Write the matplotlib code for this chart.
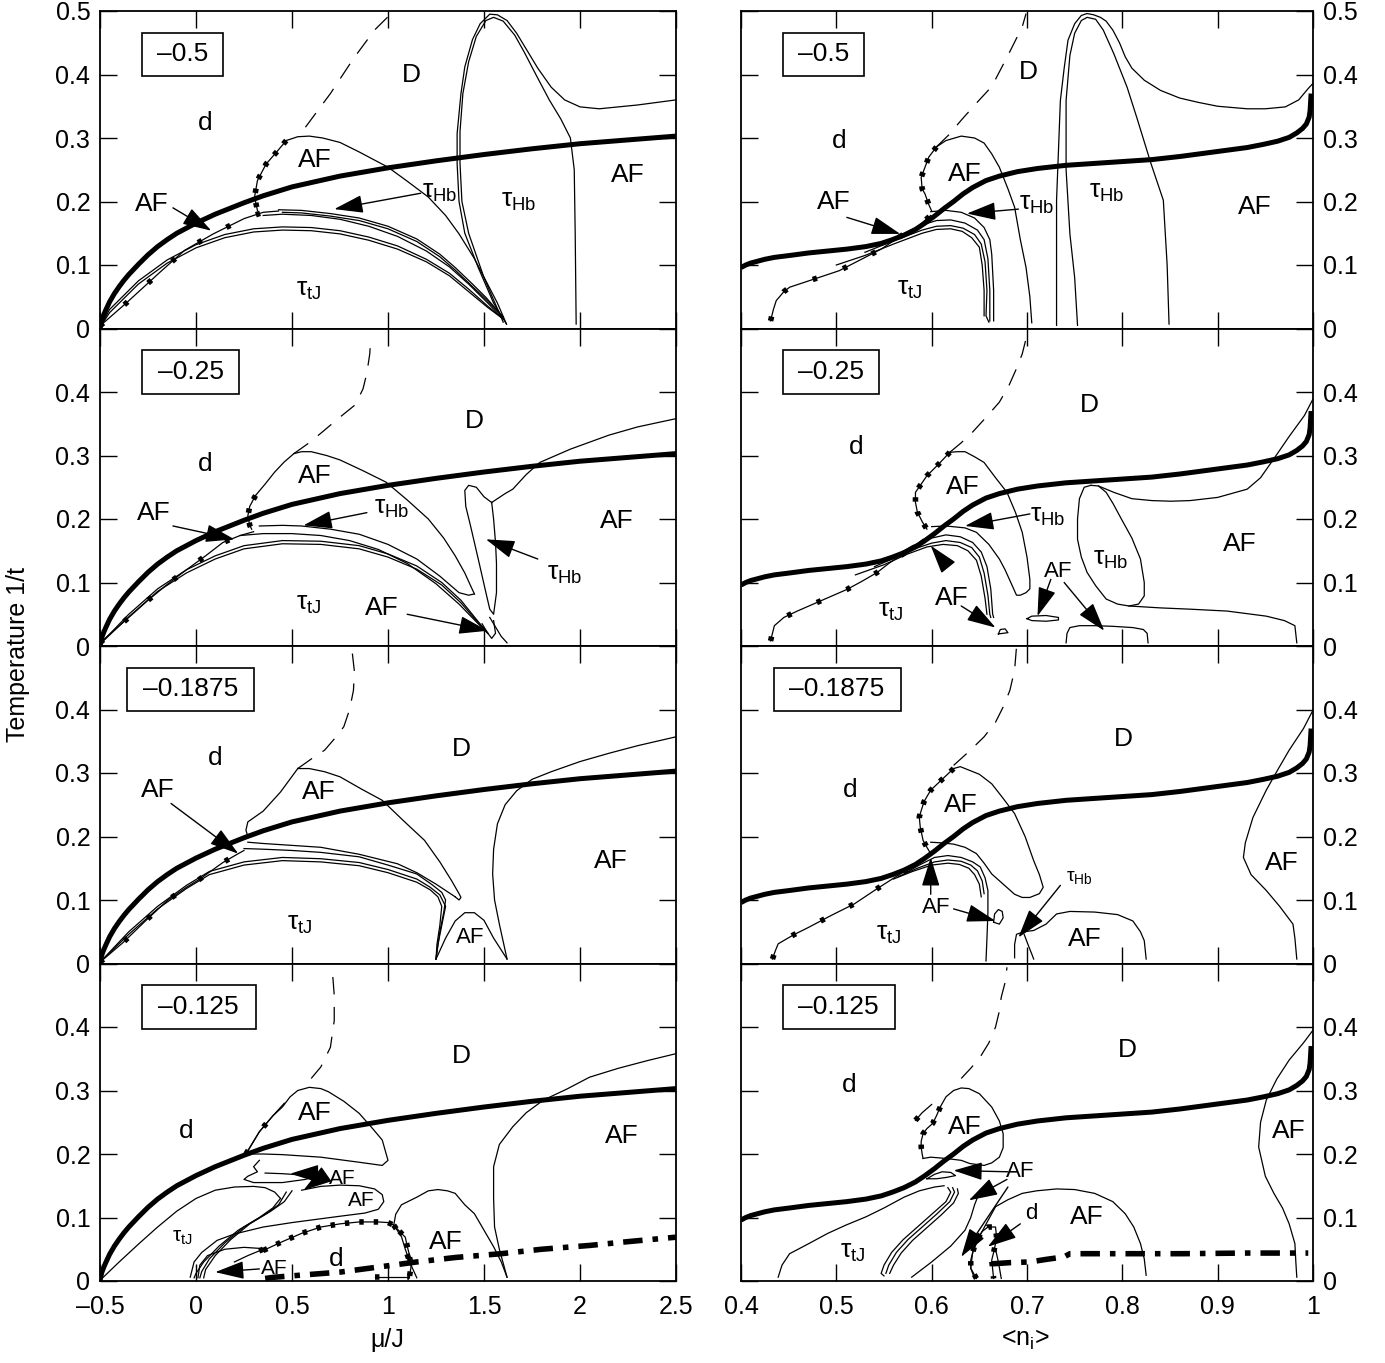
import matplotlib.pyplot as plt
from matplotlib.patches import Rectangle

plt.rcParams['font.family'] = ['Liberation Sans', 'DejaVu Sans']
plt.rcParams['mathtext.default'] = 'regular'

# ---------------- data ----------------
# panel values of the parameter shown in the boxes
box_texts = ['\u20130.5', '\u20130.25', '\u20130.1875', '\u20130.125']

# left column: mu/J, right column: <n_i>
xticks_left = [-0.5, 0, 0.5, 1, 1.5, 2, 2.5]
xlabels_left = ['\u20130.5', '0', '0.5', '1', '1.5', '2', '2.5']
xticks_right = [0.4, 0.5, 0.6, 0.7, 0.8, 0.9, 1.0]
xlabels_right = ['0.4', '0.5', '0.6', '0.7', '0.8', '0.9', '1']
yticks = [0, 0.1, 0.2, 0.3, 0.4, 0.5]

# thick curves (same in every row)
thick_left = [(-0.5, 0.0), (-0.495, 0.008), (-0.49, 0.014), (-0.48, 0.022), (-0.47, 0.029), (-0.45, 0.042),
              (-0.425, 0.055), (-0.4, 0.066), (-0.375, 0.076), (-0.35, 0.085), (-0.3, 0.101), (-0.25, 0.116),
              (-0.2, 0.129), (-0.15, 0.14), (-0.1, 0.15), (-0.05, 0.158), (0.0, 0.166), (0.05, 0.173),
              (0.1, 0.18), (0.15, 0.186), (0.25, 0.198), (0.35, 0.209), (0.5, 0.223), (0.75, 0.24),
              (1.0, 0.253), (1.25, 0.264), (1.5, 0.274), (1.75, 0.283), (2.0, 0.291), (2.25, 0.297),
              (2.5, 0.303)]
thick_right = [(0.4, 0.096), (0.405, 0.1), (0.41, 0.103), (0.415, 0.105), (0.425, 0.109), (0.435, 0.112),
               (0.451, 0.115), (0.471, 0.119), (0.491, 0.122), (0.511, 0.125), (0.531, 0.129), (0.547, 0.134),
               (0.559, 0.14), (0.571, 0.147), (0.583, 0.156), (0.593, 0.166), (0.603, 0.177), (0.613, 0.189),
               (0.623, 0.2), (0.633, 0.212), (0.643, 0.222), (0.657, 0.233), (0.671, 0.24), (0.69, 0.247),
               (0.711, 0.252), (0.741, 0.257), (0.771, 0.26), (0.801, 0.263), (0.831, 0.266), (0.861, 0.271),
               (0.891, 0.277), (0.911, 0.281), (0.931, 0.285), (0.948, 0.29), (0.963, 0.295), (0.975, 0.301),
               (0.983, 0.308), (0.989, 0.315), (0.993, 0.322), (0.996, 0.333), (0.997, 0.344), (0.998, 0.37)]

# ---- row 1, left ----
L1_dashed = [(0.57, 0.317), (0.70, 0.37), (0.82, 0.425), (0.93, 0.47), (1.03, 0.5)]
L1_dome = [(0.47, 0.296), (0.53, 0.302), (0.59, 0.303), (0.66, 0.300), (0.75, 0.293), (0.85, 0.278),
           (1.0, 0.254), (1.1, 0.232), (1.21, 0.207), (1.30, 0.178), (1.37, 0.149), (1.45, 0.11),
           (1.51, 0.075), (1.57, 0.04), (1.617, 0.007)]
L1_side = [(0.47, 0.296), (0.42, 0.278), (0.365, 0.259), (0.32, 0.233), (0.305, 0.207), (0.32, 0.186)]
L1_marked = [(-0.5, 0.004), (-0.36, 0.041), (-0.19, 0.088), (-0.06, 0.123), (0.09, 0.149), (0.25, 0.173),
             (0.35, 0.183), (0.43, 0.185)]
L1_hb_a = [(0.43, 0.187), (0.55, 0.186), (0.70, 0.181), (0.85, 0.174), (1.0, 0.161), (1.15, 0.141),
           (1.27, 0.117), (1.35, 0.096), (1.44, 0.07), (1.51, 0.049), (1.6, 0.018)]
L1_hb_b = [(0.45, 0.183), (0.55, 0.182), (0.70, 0.177), (0.85, 0.170), (1.0, 0.157), (1.15, 0.137),
           (1.27, 0.113), (1.35, 0.092), (1.44, 0.066), (1.51, 0.046), (1.6, 0.018)]
L1_tj_a = [(0.35, 0.178), (0.45, 0.18), (0.6, 0.178), (0.75, 0.172), (0.9, 0.161), (1.05, 0.145),
           (1.2, 0.122), (1.32, 0.097), (1.42, 0.07), (1.52, 0.04), (1.6, 0.015)]
L1_tj_b = [(-0.5, 0.002), (-0.45, 0.03), (-0.3, 0.075), (-0.15, 0.108), (0.0, 0.132), (0.15, 0.148),
           (0.3, 0.157), (0.45, 0.160), (0.6, 0.159), (0.75, 0.154), (0.9, 0.144), (1.05, 0.13),
           (1.2, 0.109), (1.32, 0.087), (1.42, 0.062), (1.52, 0.035), (1.6, 0.015)]
L1_tj_c = [(-0.5, 0.002), (-0.45, 0.025), (-0.3, 0.07), (-0.15, 0.103), (0.0, 0.127), (0.15, 0.143),
           (0.3, 0.152), (0.45, 0.155), (0.6, 0.154), (0.75, 0.149), (0.9, 0.139), (1.05, 0.125),
           (1.2, 0.105), (1.32, 0.083), (1.42, 0.058), (1.52, 0.033), (1.6, 0.015)]
L1_lobe_out = [(1.617, 0.007), (1.55, 0.04), (1.47, 0.096), (1.40, 0.15), (1.37, 0.2), (1.36, 0.26),
               (1.36, 0.307), (1.38, 0.37), (1.40, 0.412), (1.44, 0.455), (1.48, 0.48), (1.53, 0.495),
               (1.57, 0.494), (1.62, 0.485), (1.67, 0.465), (1.72, 0.44), (1.78, 0.41), (1.85, 0.38),
               (1.92, 0.36), (2.0, 0.349), (2.1, 0.346), (2.2, 0.349), (2.3, 0.352), (2.4, 0.356),
               (2.5, 0.36)]
L1_lobe_in = [(1.60, 0.01), (1.50, 0.08), (1.42, 0.15), (1.385, 0.2), (1.375, 0.26), (1.375, 0.31),
              (1.39, 0.37), (1.42, 0.42), (1.46, 0.46), (1.51, 0.485), (1.55, 0.49), (1.60, 0.484),
              (1.66, 0.462), (1.71, 0.435), (1.77, 0.40), (1.84, 0.36), (1.90, 0.33), (1.95, 0.30),
              (1.97, 0.25), (1.975, 0.15), (1.98, 0.007)]

# ---- row 2, left ----
L2_dashed = [(0.51, 0.303), (0.58, 0.318), (0.65, 0.335), (0.74, 0.358), (0.83, 0.38), (0.87, 0.405),
             (0.89, 0.43), (0.905, 0.46), (0.91, 0.485)]
L2_dome = [(0.51, 0.303), (0.55, 0.306), (0.60, 0.306), (0.68, 0.300), (0.75, 0.293), (0.87, 0.276),
           (0.99, 0.258), (1.1, 0.23), (1.21, 0.20), (1.29, 0.17), (1.35, 0.142), (1.40, 0.115),
           (1.43, 0.095), (1.45, 0.082)]
L2_side = [(0.51, 0.303), (0.46, 0.29), (0.41, 0.274), (0.36, 0.255), (0.31, 0.237)]
L2_side_marked = [(0.31, 0.237), (0.28, 0.22), (0.27, 0.205), (0.28, 0.19), (0.29, 0.184)]
L2_marked = [(-0.5, 0.005), (-0.35, 0.045), (-0.25, 0.072), (-0.15, 0.097), (-0.05, 0.12), (0.05, 0.142),
             (0.14, 0.163), (0.23, 0.174), (0.30, 0.18)]
L2_hb = [(0.33, 0.189), (0.45, 0.19), (0.55, 0.189), (0.70, 0.184), (0.85, 0.176), (1.0, 0.16),
         (1.15, 0.137), (1.27, 0.11), (1.37, 0.084), (1.42, 0.08), (1.45, 0.082)]
L2_tj_a = [(0.23, 0.174), (0.35, 0.177), (0.50, 0.177), (0.65, 0.174), (0.80, 0.166), (0.95, 0.152),
           (1.1, 0.13), (1.25, 0.098), (1.37, 0.066), (1.46, 0.038), (1.52, 0.02)]
L2_tj_b = [(-0.5, 0.003), (-0.35, 0.05), (-0.2, 0.09), (-0.05, 0.12), (0.1, 0.142), (0.25, 0.158),
           (0.45, 0.166), (0.65, 0.165), (0.85, 0.158), (1.0, 0.145), (1.15, 0.126), (1.28, 0.1),
           (1.38, 0.072), (1.46, 0.042), (1.52, 0.02)]
L2_tj_c = [(-0.5, 0.003), (-0.35, 0.046), (-0.2, 0.086), (-0.05, 0.115), (0.1, 0.137), (0.25, 0.153),
           (0.45, 0.161), (0.65, 0.16), (0.85, 0.153), (1.0, 0.14), (1.15, 0.121), (1.28, 0.096),
           (1.38, 0.068), (1.46, 0.04), (1.52, 0.02)]
L2_lobe = [(1.54, 0.226), (1.50, 0.235), (1.46, 0.25), (1.42, 0.253), (1.40, 0.245), (1.405, 0.22),
           (1.43, 0.189), (1.47, 0.137), (1.51, 0.084), (1.53, 0.058), (1.55, 0.05), (1.565, 0.084),
           (1.565, 0.13), (1.56, 0.163), (1.55, 0.2), (1.54, 0.226)]
L2_upper = [(1.54, 0.226), (1.57, 0.232), (1.61, 0.24), (1.65, 0.247), (1.72, 0.27), (1.79, 0.289),
            (1.95, 0.31), (2.15, 0.332), (2.3, 0.345), (2.5, 0.358)]
L2_tail_a = [(1.53, 0.045), (1.56, 0.03), (1.59, 0.015), (1.62, 0.005)]
L2_tail_b = [(1.49, 0.035), (1.52, 0.02), (1.54, 0.012), (1.56, 0.02), (1.55, 0.04)]

# ---- row 3, left ----
L3_dashed = [(0.53, 0.307), (0.60, 0.322), (0.67, 0.336), (0.73, 0.357), (0.77, 0.373), (0.80, 0.40),
             (0.82, 0.43), (0.825, 0.46), (0.81, 0.5)]
L3_dome = [(0.53, 0.307), (0.59, 0.307), (0.67, 0.302), (0.75, 0.294), (0.86, 0.275), (0.97, 0.257),
           (1.08, 0.225), (1.19, 0.194), (1.27, 0.16), (1.33, 0.131), (1.37, 0.11), (1.38, 0.104),
           (1.37, 0.1), (1.35, 0.105)]
L3_side = [(0.53, 0.307), (0.44, 0.27), (0.35, 0.24), (0.27, 0.223), (0.26, 0.21), (0.27, 0.2)]
L3_marked = [(-0.5, 0.002), (-0.38, 0.033), (-0.26, 0.068), (-0.15, 0.099), (-0.05, 0.12), (0.02, 0.133),
             (0.14, 0.159), (0.22, 0.173), (0.25, 0.178)]
L3_hb = [(0.27, 0.191), (0.35, 0.189), (0.50, 0.186), (0.65, 0.183), (0.85, 0.172), (1.05, 0.157),
         (1.15, 0.143), (1.25, 0.125), (1.30, 0.115), (1.35, 0.105)]
L3_tj_a = [(0.25, 0.181), (0.35, 0.18), (0.50, 0.178), (0.65, 0.175), (0.85, 0.168), (1.0, 0.155),
           (1.15, 0.141), (1.23, 0.124), (1.28, 0.112), (1.30, 0.1), (1.29, 0.08), (1.27, 0.05),
           (1.25, 0.007)]
L3_tj_b = [(-0.5, 0.002), (-0.35, 0.05), (-0.2, 0.09), (-0.05, 0.123), (0.07, 0.145), (0.25, 0.16),
           (0.45, 0.167), (0.65, 0.165), (0.85, 0.159), (1.0, 0.148), (1.15, 0.133), (1.22, 0.12),
           (1.27, 0.108), (1.30, 0.09), (1.28, 0.06), (1.26, 0.03), (1.25, 0.007)]
L3_tj_c = [(-0.5, 0.002), (-0.35, 0.046), (-0.2, 0.086), (-0.05, 0.118), (0.07, 0.14), (0.25, 0.155),
           (0.45, 0.162), (0.65, 0.16), (0.85, 0.154), (1.0, 0.143), (1.15, 0.128), (1.22, 0.116),
           (1.26, 0.105), (1.28, 0.09), (1.27, 0.06), (1.255, 0.03), (1.25, 0.007)]
L3_af_small = [(1.25, 0.007), (1.30, 0.04), (1.35, 0.067), (1.40, 0.08), (1.45, 0.08), (1.50, 0.068),
               (1.55, 0.04), (1.62, 0.007)]
L3_af_right = [(1.62, 0.007), (1.58, 0.062), (1.555, 0.1), (1.545, 0.141), (1.55, 0.18), (1.57, 0.22),
               (1.61, 0.25), (1.67, 0.272), (1.75, 0.29), (1.85, 0.302), (2.0, 0.318), (2.15, 0.331),
               (2.3, 0.343), (2.5, 0.357)]

# ---- row 4, left ----
L4_dashed = [(0.60, 0.319), (0.65, 0.337), (0.70, 0.368), (0.72, 0.41), (0.72, 0.45), (0.71, 0.489)]
L4_dome = [(0.26, 0.2), (0.33, 0.235), (0.40, 0.26), (0.45, 0.274), (0.49, 0.29), (0.53, 0.3), (0.59, 0.305),
           (0.65, 0.303), (0.69, 0.298), (0.77, 0.283), (0.85, 0.264), (0.92, 0.24), (0.97, 0.222),
           (1.0, 0.19), (0.97, 0.182), (0.85, 0.187), (0.65, 0.195), (0.45, 0.199), (0.35, 0.2), (0.26, 0.2)]
L4_dome_marks = [(0.26, 0.2), (0.33, 0.235), (0.40, 0.26), (0.46, 0.28)]
L4_loop1 = [(0.33, 0.19), (0.30, 0.18), (0.32, 0.172), (0.27, 0.165), (0.25, 0.16), (0.30, 0.155),
            (0.45, 0.155), (0.57, 0.16), (0.61, 0.164), (0.55, 0.167), (0.45, 0.169), (0.36, 0.17)]
L4_outer = [(0.55, 0.143), (0.65, 0.149), (0.75, 0.151), (0.85, 0.15), (0.93, 0.145), (0.97, 0.136),
            (0.978, 0.125), (0.95, 0.113), (0.88, 0.107), (0.75, 0.102), (0.65, 0.098), (0.5, 0.092),
            (0.35, 0.085), (0.2, 0.074), (0.11, 0.064), (0.03, 0.045), (-0.01, 0.03), (-0.03, 0.006)]
L4_tj_outer = [(-0.5, 0.001), (-0.4, 0.03), (-0.3, 0.058), (-0.2, 0.085), (-0.1, 0.11), (0.0, 0.13),
               (0.1, 0.143), (0.2, 0.148), (0.3, 0.149), (0.36, 0.147), (0.41, 0.14), (0.44, 0.13)]
L4_bundle_a = [(0.44, 0.13), (0.40, 0.115), (0.33, 0.10), (0.22, 0.08), (0.12, 0.055), (0.04, 0.03),
               (0.0, 0.012), (-0.01, 0.005)]
L4_bundle_b = [(0.47, 0.14), (0.43, 0.12), (0.36, 0.105), (0.25, 0.085), (0.15, 0.06), (0.07, 0.035),
               (0.03, 0.015), (0.02, 0.005)]
L4_bundle_c = [(0.50, 0.142), (0.46, 0.125), (0.39, 0.11), (0.28, 0.09), (0.18, 0.065), (0.10, 0.04),
               (0.05, 0.018), (0.04, 0.005)]
L4_inner = [(0.01, 0.005), (0.02, 0.025), (0.06, 0.04), (0.15, 0.05), (0.25, 0.053), (0.35, 0.051)]
L4_inner_marked = [(0.35, 0.05), (0.27, 0.04), (0.2, 0.03)]
L4_d_dotted = [(0.35, 0.048), (0.45, 0.062), (0.55, 0.075), (0.65, 0.085), (0.75, 0.09), (0.85, 0.093),
               (0.95, 0.093), (1.0, 0.092), (1.03, 0.088), (1.07, 0.075), (1.09, 0.069), (1.10, 0.055),
               (1.11, 0.043), (1.12, 0.022), (1.11, 0.004)]
L4_af2 = [(1.03, 0.088), (1.04, 0.105), (1.07, 0.12), (1.15, 0.132), (1.21, 0.142), (1.26, 0.144),
          (1.31, 0.142), (1.35, 0.138), (1.40, 0.12), (1.45, 0.106), (1.50, 0.08), (1.55, 0.054),
          (1.59, 0.03), (1.62, 0.006)]
L4_af2_marked = [(1.03, 0.088), (1.07, 0.07), (1.09, 0.05), (1.12, 0.025), (1.15, 0.005)]
L4_bottom_marked = [(0.93, 0.007), (1.02, 0.007), (1.11, 0.007)]
L4_af_right = [(1.62, 0.006), (1.58, 0.05), (1.555, 0.085), (1.55, 0.13), (1.55, 0.18), (1.58, 0.215),
               (1.65, 0.243), (1.72, 0.265), (1.81, 0.285), (1.93, 0.302), (2.05, 0.321), (2.2, 0.335),
               (2.35, 0.347), (2.5, 0.358)]
L4_dashdot = [(0.36, 0.004), (0.41, 0.006), (0.58, 0.01), (0.75, 0.014), (0.95, 0.022), (1.15, 0.03),
              (1.35, 0.037), (1.59, 0.043), (1.80, 0.05), (2.05, 0.056), (2.25, 0.062), (2.5, 0.069)]

# ---- row 1, right ----
R1_dashed = [(0.605, 0.286), (0.618, 0.305), (0.631, 0.328), (0.647, 0.355), (0.663, 0.381),
             (0.68, 0.43), (0.695, 0.475), (0.699, 0.496)]
R1_dome = [(0.605, 0.286), (0.615, 0.296), (0.631, 0.303), (0.645, 0.3), (0.655, 0.292), (0.663, 0.275),
           (0.671, 0.254), (0.68, 0.22), (0.687, 0.191), (0.693, 0.14), (0.699, 0.096), (0.703, 0.05),
           (0.705, 0.009)]
R1_side = [(0.605, 0.286), (0.597, 0.27), (0.592, 0.25), (0.589, 0.238), (0.590, 0.22), (0.593, 0.212),
           (0.597, 0.195), (0.600, 0.185)]
R1_marked = [(0.431, 0.012), (0.434, 0.03), (0.437, 0.044), (0.445, 0.058), (0.451, 0.065), (0.475, 0.077),
             (0.503, 0.091), (0.525, 0.108), (0.547, 0.125), (0.571, 0.149), (0.585, 0.16), (0.599, 0.178)]
R1_hb = [(0.599, 0.184), (0.615, 0.186), (0.631, 0.183), (0.645, 0.174), (0.655, 0.159), (0.661, 0.14),
         (0.663, 0.117), (0.665, 0.06), (0.665, 0.012)]
R1_tj_a = [(0.57, 0.148), (0.59, 0.163), (0.605, 0.17), (0.62, 0.171), (0.635, 0.166), (0.648, 0.155),
           (0.655, 0.14), (0.659, 0.11), (0.661, 0.06), (0.661, 0.012)]
R1_tj_b = [(0.53, 0.12), (0.56, 0.138), (0.59, 0.155), (0.605, 0.161), (0.62, 0.162), (0.633, 0.158),
           (0.645, 0.148), (0.652, 0.133), (0.656, 0.105), (0.658, 0.06), (0.657, 0.02), (0.66, 0.01)]
R1_tj_c = [(0.50, 0.1), (0.53, 0.115), (0.56, 0.133), (0.59, 0.15), (0.605, 0.156), (0.62, 0.157),
           (0.632, 0.153), (0.642, 0.143), (0.65, 0.128), (0.653, 0.1), (0.655, 0.06), (0.655, 0.02)]
R1_lobe_out = [(0.731, 0.005), (0.731, 0.1), (0.731, 0.202), (0.733, 0.28), (0.735, 0.359), (0.739, 0.41),
               (0.743, 0.454), (0.75, 0.48), (0.757, 0.493), (0.763, 0.496), (0.77, 0.494), (0.777, 0.49),
               (0.783, 0.484), (0.79, 0.47), (0.797, 0.45), (0.803, 0.428), (0.81, 0.41), (0.823, 0.391),
               (0.84, 0.375), (0.86, 0.363), (0.88, 0.356), (0.90, 0.35), (0.931, 0.346), (0.95, 0.346),
               (0.971, 0.349), (0.985, 0.36), (0.995, 0.378), (1.0, 0.386)]
R1_lobe_in = [(0.753, 0.005), (0.75, 0.08), (0.745, 0.149), (0.741, 0.25), (0.741, 0.359), (0.745, 0.43),
              (0.75, 0.465), (0.757, 0.485), (0.763, 0.49), (0.772, 0.487), (0.78, 0.47), (0.791, 0.433),
              (0.805, 0.38), (0.815, 0.333), (0.83, 0.26), (0.843, 0.202), (0.847, 0.1), (0.849, 0.007)]

# ---- row 2, right ----
R2_dashed = [(0.619, 0.305), (0.631, 0.32), (0.643, 0.337), (0.657, 0.36), (0.671, 0.384), (0.681, 0.41),
             (0.689, 0.437), (0.695, 0.46), (0.699, 0.484)]
R2_dome = [(0.619, 0.305), (0.627, 0.306), (0.635, 0.306), (0.645, 0.298), (0.655, 0.289), (0.667, 0.265),
           (0.679, 0.242), (0.688, 0.21), (0.695, 0.179), (0.700, 0.14), (0.703, 0.105), (0.703, 0.09),
           (0.699, 0.084), (0.693, 0.08), (0.689, 0.08), (0.683, 0.1), (0.677, 0.12), (0.671, 0.137),
           (0.66, 0.16), (0.647, 0.179), (0.635, 0.186), (0.615, 0.189), (0.60, 0.188)]
R2_side = [(0.619, 0.305), (0.607, 0.286), (0.595, 0.268), (0.589, 0.255), (0.583, 0.242), (0.583, 0.226),
           (0.585, 0.211), (0.59, 0.196), (0.595, 0.184)]
R2_marked = [(0.431, 0.008), (0.433, 0.02), (0.435, 0.032), (0.445, 0.045), (0.459, 0.055), (0.485, 0.072),
             (0.511, 0.089), (0.527, 0.102), (0.543, 0.116), (0.555, 0.13), (0.567, 0.142), (0.58, 0.155),
             (0.591, 0.168)]
R2_tj_a = [(0.56, 0.14), (0.58, 0.158), (0.60, 0.17), (0.615, 0.175), (0.63, 0.172), (0.643, 0.163),
           (0.652, 0.148), (0.658, 0.125), (0.662, 0.09), (0.664, 0.05), (0.665, 0.045)]
R2_tj_b = [(0.54, 0.125), (0.56, 0.138), (0.58, 0.152), (0.60, 0.162), (0.615, 0.166), (0.63, 0.163),
           (0.642, 0.155), (0.65, 0.14), (0.655, 0.115), (0.659, 0.08), (0.661, 0.05), (0.662, 0.045)]
R2_tj_c = [(0.52, 0.112), (0.55, 0.128), (0.575, 0.145), (0.595, 0.156), (0.612, 0.16), (0.627, 0.158),
           (0.638, 0.15), (0.647, 0.135), (0.652, 0.11), (0.656, 0.075), (0.658, 0.05)]
R2_hb_loop = [(0.767, 0.253), (0.76, 0.25), (0.755, 0.232), (0.753, 0.2), (0.753, 0.168), (0.757, 0.14),
              (0.763, 0.116), (0.772, 0.095), (0.783, 0.074), (0.795, 0.066), (0.807, 0.063), (0.817, 0.066),
              (0.823, 0.079), (0.823, 0.1), (0.819, 0.137), (0.81, 0.17), (0.799, 0.2), (0.79, 0.225),
              (0.783, 0.242), (0.775, 0.252), (0.767, 0.253)]
R2_upper = [(0.775, 0.252), (0.791, 0.242), (0.81, 0.232), (0.831, 0.229), (0.851, 0.228), (0.871, 0.229),
            (0.9, 0.234), (0.931, 0.247), (0.945, 0.265), (0.959, 0.295), (0.975, 0.33), (0.991, 0.363),
            (1.0, 0.389)]
R2_bottom = [(0.807, 0.063), (0.84, 0.06), (0.871, 0.058), (0.91, 0.055), (0.951, 0.047), (0.97, 0.04),
             (0.981, 0.032), (0.983, 0.005)]
R2_af_dome = [(0.741, 0.005), (0.742, 0.02), (0.745, 0.029), (0.755, 0.032), (0.771, 0.032), (0.79, 0.031),
              (0.811, 0.029), (0.822, 0.026), (0.826, 0.02), (0.827, 0.005)]
R2_small_loop = [(0.70, 0.043), (0.705, 0.047), (0.72, 0.048), (0.733, 0.045), (0.733, 0.041), (0.72, 0.039),
                 (0.705, 0.04), (0.70, 0.043)]
R2_blob = [(0.67, 0.019), (0.672, 0.026), (0.677, 0.027), (0.68, 0.021), (0.67, 0.019)]

# ---- row 3, right ----
R3_dashed = [(0.623, 0.312), (0.64, 0.335), (0.655, 0.357), (0.667, 0.38), (0.675, 0.404), (0.682, 0.43),
             (0.687, 0.462), (0.689, 0.499)]
R3_dome = [(0.623, 0.307), (0.63, 0.31), (0.635, 0.307), (0.65, 0.298), (0.663, 0.283), (0.675, 0.26),
           (0.687, 0.236), (0.698, 0.2), (0.707, 0.162), (0.713, 0.14), (0.717, 0.12), (0.713, 0.11),
           (0.703, 0.104), (0.695, 0.104), (0.687, 0.109), (0.675, 0.125), (0.663, 0.141), (0.655, 0.158),
           (0.647, 0.173), (0.635, 0.183), (0.623, 0.188), (0.61, 0.19), (0.599, 0.191)]
R3_side = [(0.623, 0.307), (0.611, 0.29), (0.599, 0.273), (0.592, 0.255), (0.587, 0.231), (0.588, 0.215),
           (0.591, 0.194), (0.595, 0.183), (0.599, 0.173)]
R3_marked = [(0.433, 0.007), (0.436, 0.02), (0.439, 0.031), (0.455, 0.045), (0.471, 0.057), (0.495, 0.076),
             (0.519, 0.094), (0.543, 0.118), (0.567, 0.141), (0.583, 0.157), (0.599, 0.173)]
R3_tj_a = [(0.571, 0.141), (0.587, 0.155), (0.603, 0.167), (0.617, 0.17), (0.631, 0.167), (0.643, 0.16),
           (0.651, 0.152), (0.656, 0.135), (0.659, 0.115), (0.659, 0.08), (0.658, 0.04), (0.657, 0.004)]
R3_tj_b = [(0.565, 0.137), (0.585, 0.15), (0.603, 0.16), (0.617, 0.163), (0.631, 0.161), (0.641, 0.155),
           (0.648, 0.146), (0.653, 0.13), (0.655, 0.11)]
R3_tj_c = [(0.56, 0.133), (0.58, 0.145), (0.60, 0.155), (0.617, 0.158), (0.629, 0.156), (0.639, 0.15),
           (0.645, 0.14), (0.65, 0.125), (0.652, 0.105)]
R3_small_loop = [(0.665, 0.065), (0.666, 0.078), (0.670, 0.085), (0.674, 0.082), (0.675, 0.072),
                 (0.671, 0.062), (0.665, 0.065)]
R3_hb_line = [(0.687, 0.009), (0.687, 0.03), (0.689, 0.046), (0.697, 0.05), (0.707, 0.052), (0.72, 0.062),
              (0.731, 0.078), (0.745, 0.082), (0.771, 0.081), (0.795, 0.077), (0.811, 0.067), (0.819, 0.05),
              (0.823, 0.036), (0.825, 0.007)]
R3_line2 = [(0.697, 0.046), (0.701, 0.03), (0.705, 0.015), (0.707, 0.007)]
R3_af_right = [(0.983, 0.007), (0.981, 0.04), (0.979, 0.062), (0.965, 0.09), (0.951, 0.115), (0.935, 0.14),
               (0.927, 0.167), (0.929, 0.19), (0.937, 0.23), (0.951, 0.273), (0.963, 0.305), (0.975, 0.336),
               (0.99, 0.37), (1.0, 0.399)]

# ---- row 4, right ----
R4_dashed = [(0.631, 0.319), (0.641, 0.335), (0.651, 0.353), (0.66, 0.375), (0.667, 0.4), (0.671, 0.425),
             (0.673, 0.447), (0.677, 0.47), (0.679, 0.494)]
R4_dome = [(0.609, 0.274), (0.615, 0.29), (0.623, 0.3), (0.631, 0.304), (0.639, 0.303), (0.65, 0.295),
           (0.663, 0.274), (0.671, 0.252), (0.675, 0.232), (0.675, 0.21), (0.671, 0.195), (0.663, 0.186),
           (0.655, 0.182), (0.64, 0.185), (0.631, 0.19), (0.615, 0.193), (0.599, 0.195), (0.591, 0.193)]
R4_side = [(0.609, 0.274), (0.605, 0.26), (0.601, 0.248), (0.595, 0.24), (0.591, 0.232), (0.589, 0.22),
           (0.589, 0.211), (0.59, 0.2), (0.591, 0.193)]
R4_side2 = [(0.583, 0.253), (0.59, 0.265), (0.60, 0.278)]
R4_lens = [(0.595, 0.161), (0.603, 0.168), (0.611, 0.172), (0.62, 0.171), (0.625, 0.166), (0.615, 0.163),
           (0.605, 0.161), (0.595, 0.161)]
R4_tj_outer = [(0.439, 0.006), (0.443, 0.025), (0.451, 0.043), (0.47, 0.058), (0.491, 0.075), (0.51, 0.088),
               (0.531, 0.101), (0.55, 0.115), (0.571, 0.132), (0.587, 0.142), (0.603, 0.148), (0.613, 0.15)]
R4_bundle_a = [(0.617, 0.147), (0.62, 0.14), (0.615, 0.125), (0.60, 0.105), (0.585, 0.085), (0.57, 0.065),
               (0.558, 0.045), (0.55, 0.025), (0.547, 0.012), (0.55, 0.008)]
R4_bundle_b = [(0.622, 0.147), (0.624, 0.14), (0.619, 0.125), (0.605, 0.105), (0.59, 0.085), (0.575, 0.065),
               (0.563, 0.045), (0.555, 0.025), (0.552, 0.012)]
R4_bundle_c = [(0.627, 0.145), (0.628, 0.138), (0.623, 0.123), (0.61, 0.104), (0.595, 0.084), (0.58, 0.064),
               (0.568, 0.044), (0.56, 0.025), (0.556, 0.012)]
R4_line1 = [(0.579, 0.006), (0.60, 0.03), (0.62, 0.055), (0.635, 0.08), (0.641, 0.1), (0.645, 0.12),
            (0.651, 0.143)]
R4_af_dome = [(0.667, 0.117), (0.68, 0.128), (0.695, 0.138), (0.71, 0.142), (0.731, 0.145), (0.75, 0.144),
              (0.771, 0.138), (0.79, 0.125), (0.803, 0.106), (0.812, 0.085), (0.819, 0.059), (0.823, 0.035),
              (0.825, 0.009)]
R4_af_left = [(0.667, 0.117), (0.659, 0.095), (0.65, 0.07), (0.643, 0.045), (0.641, 0.02), (0.645, 0.004)]
R4_af_left2 = [(0.673, 0.004), (0.67, 0.03), (0.667, 0.05)]
R4_d_dotted = [(0.647, 0.004), (0.641, 0.02), (0.641, 0.033), (0.644, 0.05), (0.647, 0.064), (0.653, 0.078),
               (0.659, 0.085), (0.667, 0.085), (0.668, 0.07), (0.667, 0.059), (0.665, 0.045), (0.663, 0.033),
               (0.664, 0.018), (0.665, 0.004)]
R4_dashdot = [(0.663, 0.027), (0.683, 0.029), (0.703, 0.03), (0.72, 0.034), (0.739, 0.038), (0.745, 0.043),
              (0.76, 0.043), (0.783, 0.043), (0.83, 0.043), (0.863, 0.043), (0.93, 0.044), (0.995, 0.044)]
R4_af_right = [(0.983, 0.006), (0.982, 0.03), (0.981, 0.059), (0.975, 0.09), (0.968, 0.115), (0.959, 0.138),
               (0.95, 0.165), (0.943, 0.211), (0.945, 0.25), (0.951, 0.285), (0.962, 0.318), (0.975, 0.348),
               (0.99, 0.375), (1.0, 0.395)]


# ---------------- drawing helpers ----------------
def curve(ax, pts, lw=0.9, **kw):
    ax.plot([p[0] for p in pts], [p[1] for p in pts], color='k', lw=lw,
            solid_joinstyle='round', **kw)


def thick(ax, pts):
    curve(ax, pts, lw=3.6, solid_capstyle='butt')


def dashed(ax, pts):
    curve(ax, pts, lw=0.9, linestyle=(0, (14, 10)))


def marked(ax, pts):
    # thin line carrying thick short marks
    curve(ax, pts)
    curve(ax, pts, lw=4, linestyle=(0, (0.8, 5)), dash_capstyle='butt')


def dotted(ax, pts):
    curve(ax, pts)
    curve(ax, pts, lw=4, linestyle=(0, (0.8, 1.8)), dash_capstyle='butt')


def dashdot(ax, pts):
    curve(ax, pts, lw=4, linestyle=(0, (3.5, 1.8, 1, 1.8)), dash_capstyle='butt')


def arrow(ax, x0, y0, x1, y1):
    ax.annotate('', xy=(x1, y1), xytext=(x0, y0),
                arrowprops=dict(arrowstyle='-|>,head_length=0.9,head_width=0.28', color='k',
                                lw=1, mutation_scale=20, shrinkA=0, shrinkB=0))


def label(ax, x, y, s, size=19):
    ax.text(x, y, s, ha='center', va='center', fontsize=size)


def box(ax, x0, w, s):
    ax.add_patch(Rectangle((x0, 0.795), w, 0.137, transform=ax.transAxes,
                           fill=False, lw=1.2, color='k'))
    ax.text(x0 + w / 2, 0.8635, s, transform=ax.transAxes, ha='center', va='center', fontsize=19)


HB = 'τ$_{\\mathregular{Hb}}$'
TJ = 'τ$_{\\mathregular{tJ}}$'

# ---------------- figure ----------------
fig = plt.figure(figsize=(13.85, 13.63), dpi=100)
W, H = 1385, 1363
row_h = 317.5
axes = []
for r in range(4):
    top = 11 + r * row_h
    bottom = top + row_h
    axl = fig.add_axes([100 / W, 1 - bottom / H, 576 / W, row_h / H])
    axr = fig.add_axes([741 / W, 1 - bottom / H, 572 / W, row_h / H])
    axes.append((axl, axr))

boxes_left = [(0.073, 0.14), (0.073, 0.169), (0.047, 0.221), (0.073, 0.197)]
boxes_right = [(0.073, 0.142), (0.073, 0.169), (0.057, 0.222), (0.073, 0.196)]

for r, (axl, axr) in enumerate(axes):
    for ax, side in ((axl, 'L'), (axr, 'R')):
        ax.set_ylim(0, 0.5)
        ax.set_yticks(yticks)
        ylabs = ['0', '0.1', '0.2', '0.3', '0.4', '0.5' if r == 0 else '']
        ax.set_yticklabels(ylabs)
        if side == 'L':
            ax.set_xlim(-0.5, 2.5)
            ax.set_xticks(xticks_left)
            ax.set_xticklabels(xlabels_left)
        else:
            ax.set_xlim(0.4, 1.0)
            ax.set_xticks(xticks_right)
            ax.set_xticklabels(xlabels_right)
        ax.tick_params(direction='in', length=12, width=1, top=True, right=True,
                       labelsize=18, pad=7,
                       labelleft=(side == 'L'), labelright=(side == 'R'),
                       labelbottom=(r == 3))
        ax.tick_params(axis='x', pad=10)
        for sp in ax.spines.values():
            sp.set_linewidth(1.3)
        bx = boxes_left[r] if side == 'L' else boxes_right[r]
        box(ax, bx[0], bx[1], box_texts[r])
        thick(ax, thick_left if side == 'L' else thick_right)

# ---- row 1 left
ax = axes[0][0]
dashed(ax, L1_dashed)
curve(ax, L1_dome)
dotted(ax, L1_side)
marked(ax, L1_marked)
for c in (L1_hb_a, L1_hb_b, L1_tj_a, L1_tj_b, L1_tj_c, L1_lobe_out, L1_lobe_in):
    curve(ax, c)
label(ax, 0.05, 0.323, 'd')
label(ax, 1.12, 0.399, 'D')
label(ax, 0.62, 0.265, 'AF')
label(ax, 1.27, 0.215, HB)
label(ax, 1.68, 0.2, HB)
label(ax, 2.25, 0.241, 'AF')
label(ax, -0.23, 0.196, 'AF')
label(ax, 0.59, 0.06, TJ)
arrow(ax, -0.12, 0.19, 0.08, 0.154)
arrow(ax, 1.17, 0.213, 0.72, 0.188)

# ---- row 2 left
ax = axes[1][0]
dashed(ax, L2_dashed)
curve(ax, L2_dome)
curve(ax, L2_side)
dotted(ax, L2_side_marked)
marked(ax, L2_marked)
for c in (L2_hb, L2_tj_a, L2_tj_b, L2_tj_c, L2_lobe, L2_upper, L2_tail_a, L2_tail_b):
    curve(ax, c)
label(ax, 0.05, 0.287, 'd')
label(ax, 1.45, 0.355, 'D')
label(ax, 0.62, 0.268, 'AF')
label(ax, 1.02, 0.218, HB)
label(ax, -0.22, 0.21, 'AF')
label(ax, 2.19, 0.197, 'AF')
label(ax, 1.92, 0.113, HB)
label(ax, 0.97, 0.06, 'AF')
label(ax, 0.59, 0.066, TJ)
arrow(ax, -0.12, 0.189, 0.2, 0.168)
arrow(ax, 0.89, 0.21, 0.56, 0.19)
arrow(ax, 1.78, 0.137, 1.51, 0.168)
arrow(ax, 1.1, 0.05, 1.52, 0.024)

# ---- row 3 left
ax = axes[2][0]
dashed(ax, L3_dashed)
curve(ax, L3_dome)
curve(ax, L3_side)
marked(ax, L3_marked)
for c in (L3_hb, L3_tj_a, L3_tj_b, L3_tj_c, L3_af_small, L3_af_right):
    curve(ax, c)
label(ax, 0.1, 0.323, 'd')
label(ax, 1.38, 0.338, 'D')
label(ax, 0.64, 0.27, 'AF')
label(ax, -0.2, 0.273, 'AF')
label(ax, 2.16, 0.162, 'AF')
label(ax, 1.43, 0.041, 'AF', 16)
label(ax, 0.54, 0.062, TJ)
arrow(ax, -0.13, 0.252, 0.22, 0.173)

# ---- row 4 left
ax = axes[3][0]
dashed(ax, L4_dashed)
curve(ax, L4_dome)
marked(ax, L4_dome_marks)
for c in (L4_loop1, L4_outer, L4_tj_outer, L4_bundle_a, L4_bundle_b, L4_bundle_c, L4_inner,
          L4_af2, L4_af_right):
    curve(ax, c)
marked(ax, L4_inner_marked)
marked(ax, L4_af2_marked)
marked(ax, L4_bottom_marked)
dotted(ax, L4_d_dotted)
dashdot(ax, L4_dashdot)
label(ax, -0.05, 0.237, 'd')
label(ax, 1.38, 0.355, 'D')
label(ax, 0.62, 0.264, 'AF')
label(ax, 0.76, 0.161, 'AF', 15)
label(ax, 0.86, 0.127, 'AF', 15)
label(ax, 2.22, 0.229, 'AF')
label(ax, 1.3, 0.061, 'AF')
label(ax, 0.73, 0.035, 'd')
label(ax, 0.41, 0.019, 'AF', 15)
label(ax, -0.07, 0.069, TJ, 15)
arrow(ax, 0.65, 0.169, 0.49, 0.169)
arrow(ax, 0.65, 0.162, 0.56, 0.143)
arrow(ax, 0.33, 0.019, 0.1, 0.014)

# ---- row 1 right
ax = axes[0][1]
dashed(ax, R1_dashed)
curve(ax, R1_dome)
dotted(ax, R1_side)
marked(ax, R1_marked)
for c in (R1_hb, R1_tj_a, R1_tj_b, R1_tj_c, R1_lobe_out, R1_lobe_in):
    curve(ax, c)
label(ax, 0.503, 0.296, 'd')
label(ax, 0.701, 0.404, 'D')
label(ax, 0.635, 0.244, 'AF')
label(ax, 0.497, 0.199, 'AF')
label(ax, 0.71, 0.196, HB)
label(ax, 0.784, 0.215, HB)
label(ax, 0.939, 0.191, 'AF')
label(ax, 0.577, 0.062, TJ)
arrow(ax, 0.511, 0.175, 0.567, 0.149)
arrow(ax, 0.691, 0.188, 0.637, 0.181)

# ---- row 2 right
ax = axes[1][1]
dashed(ax, R2_dashed)
curve(ax, R2_dome)
dotted(ax, R2_side)
marked(ax, R2_marked)
for c in (R2_tj_a, R2_tj_b, R2_tj_c, R2_hb_loop, R2_upper, R2_bottom, R2_af_dome,
          R2_small_loop, R2_blob):
    curve(ax, c)
label(ax, 0.521, 0.313, 'd')
label(ax, 0.765, 0.379, 'D')
label(ax, 0.633, 0.25, 'AF')
label(ax, 0.722, 0.205, HB)
label(ax, 0.788, 0.137, HB)
label(ax, 0.923, 0.161, 'AF')
label(ax, 0.733, 0.118, 'AF', 16)
label(ax, 0.621, 0.076, 'AF')
label(ax, 0.557, 0.055, TJ)
arrow(ax, 0.703, 0.208, 0.635, 0.189)
arrow(ax, 0.725, 0.105, 0.711, 0.047)
arrow(ax, 0.739, 0.1, 0.781, 0.024)
arrow(ax, 0.613, 0.132, 0.599, 0.158)
arrow(ax, 0.631, 0.063, 0.667, 0.029)

# ---- row 3 right
ax = axes[2][1]
dashed(ax, R3_dashed)
curve(ax, R3_dome)
dotted(ax, R3_side)
marked(ax, R3_marked)
for c in (R3_tj_a, R3_tj_b, R3_tj_c, R3_small_loop, R3_hb_line, R3_line2, R3_af_right):
    curve(ax, c)
label(ax, 0.515, 0.273, 'd')
label(ax, 0.801, 0.354, 'D')
label(ax, 0.631, 0.249, 'AF')
label(ax, 0.605, 0.088, 'AF', 16)
label(ax, 0.755, 0.136, HB, 14)
label(ax, 0.761, 0.038, 'AF')
label(ax, 0.967, 0.159, 'AF')
label(ax, 0.555, 0.046, TJ)
arrow(ax, 0.599, 0.109, 0.599, 0.167)
arrow(ax, 0.623, 0.086, 0.667, 0.067)
arrow(ax, 0.735, 0.123, 0.691, 0.041)

# ---- row 4 right
ax = axes[3][1]
dashed(ax, R4_dashed)
curve(ax, R4_dome)
dotted(ax, R4_side)
marked(ax, R4_side2)
for c in (R4_lens, R4_tj_outer, R4_bundle_a, R4_bundle_b, R4_bundle_c, R4_line1, R4_af_dome,
          R4_af_left, R4_af_left2, R4_af_right):
    curve(ax, c)
dotted(ax, R4_d_dotted)
dashdot(ax, R4_dashdot)
label(ax, 0.513, 0.308, 'd')
label(ax, 0.805, 0.363, 'D')
label(ax, 0.635, 0.243, 'AF')
label(ax, 0.975, 0.237, 'AF')
label(ax, 0.763, 0.101, 'AF')
label(ax, 0.517, 0.046, TJ)
label(ax, 0.693, 0.172, 'AF', 16)
label(ax, 0.705, 0.106, 'd', 16)
arrow(ax, 0.680, 0.172, 0.623, 0.174)
arrow(ax, 0.679, 0.160, 0.639, 0.127)
arrow(ax, 0.680, 0.148, 0.631, 0.038)
arrow(ax, 0.693, 0.09, 0.659, 0.054)

fig.text(18 / W, 1 - 655 / H, 'Temperature 1/t', rotation=90, ha='center', va='center', fontsize=18)
fig.text(387 / W, 1 - 1340 / H, 'μ/J', ha='center', va='center', fontsize=18)
fig.text(1025 / W, 1 - 1340 / H, '<n$_{\\mathregular{i}}$>', ha='center', va='center', fontsize=18)

fig.savefig('out.png', dpi=100)
